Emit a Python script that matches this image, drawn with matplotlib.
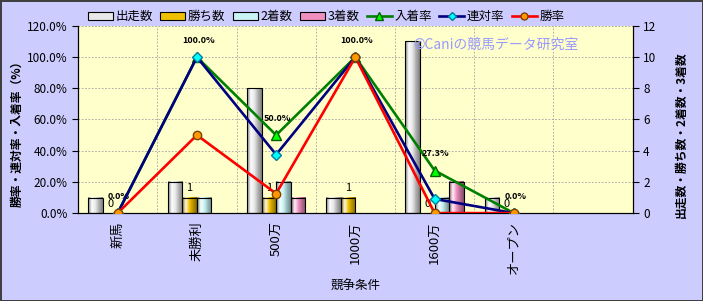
import numpy as np
import matplotlib
matplotlib.use('Agg')
import matplotlib.pyplot as plt
from matplotlib.colors import LinearSegmentedColormap, to_rgb
from matplotlib.patches import Patch
from matplotlib.lines import Line2D

plt.rcParams['font.family'] = ['Noto Sans CJK JP', 'DejaVu Sans']

# data
categories = ['新馬', '未勝利', '500万', '1000万', '1600万', 'オープン', '']
runs = [1, 2, 8, 1, 11, 1, 0]
wins = [0, 1, 1, 1, 0, 0, 0]
seconds = [0, 1, 2, 0, 1, 0, 0]
thirds = [0, 0, 1, 0, 2, 0, 0]
place_rate = [0.0, 100.0, 50.0, 100.0, 27.3, 0.0]
rentai_rate = [0.0, 100.0, 37.5, 100.0, 9.1, 0.0]
win_rate = [0.0, 50.0, 12.5, 100.0, 0.0, 0.0]

bar_names = ['出走数', '勝ち数', '2着数', '3着数']
bar_colors = ['#e8e8e8', '#f0c000', '#c8f4f4', '#f090c0']


def grad_bar(ax, x, h, w, color):
    c = np.array(to_rgb(color))
    dark = c * 0.55
    light = c + (1 - c) * 0.9
    cmap = LinearSegmentedColormap.from_list('g', [dark, light, c, c * 0.75, dark])
    ax.imshow(np.linspace(0, 1, 64).reshape(1, -1), cmap=cmap,
              extent=[x - w / 2, x + w / 2, 0, h], aspect='auto', zorder=2)
    ax.bar(x, h, w, color='none', edgecolor='black', lw=0.8, zorder=3)


fig = plt.figure(figsize=(7.03, 3.01), dpi=100)
fig.patch.set_facecolor('#ccccff')
fig.patch.set_edgecolor('#404040')
fig.patch.set_linewidth(1.0)

ax = fig.add_axes([0.111, 0.292, 0.789, 0.622])
ax.set_facecolor('#ffffcc')
ax2 = ax.twinx()

# bars on the count axis
x = np.arange(len(categories))
w = 0.184
series = [runs, wins, seconds, thirds]
for k, (vals, col) in enumerate(zip(series, bar_colors)):
    for i, v in enumerate(vals):
        if v > 0:
            grad_bar(ax, x[i] + (k - 1.5) * w, v, w, col)

# win count labels (they sit on top of the 0.0% labels like the original)
for i, v in enumerate(wins[:6]):
    ax.annotate(str(v), (x[i] - 0.5 * w, v), xytext=(0, 3), textcoords='offset points',
                ha='center', va='bottom', fontsize=8)

ax.set_xlim(-0.5, 6.5)
ax.set_ylim(0, 12)
ax.set_yticks(np.arange(0, 13, 2))
ax.yaxis.tick_right()
ax.yaxis.set_label_position('right')
ax.set_ylabel('出走数・勝ち数・2着数・3着数', fontsize=8.5, fontweight='bold', rotation=90)
ax.yaxis.set_label_coords(1.075, 0.42)
ax.set_xticks(x)
ax.set_xticklabels(categories, rotation=90, fontsize=9.5)
ax.set_xticks(np.arange(-0.5, 7, 1), minor=True)
ax.tick_params(axis='x', which='both', length=0, pad=6)
ax.tick_params(axis='y', labelsize=8.5, length=4, colors='black')
ax.set_xlabel('競争条件', fontsize=9, labelpad=4)
ax.grid(axis='y', which='major', color='#a0a0a0', ls=(0, (2, 2)), lw=0.6)
ax.grid(axis='x', which='minor', color='#a0a0a0', ls=(0, (2, 2)), lw=0.6)
ax.set_axisbelow(True)

# lines on the percent axis
lx = x[:6]
ax2.plot(lx, place_rate, color='#008000', lw=1.9, marker='^', ms=7,
         mfc='#00ff00', mec='#006000', zorder=3)
ax2.plot(lx, rentai_rate, color='#000080', lw=1.9, marker='D', ms=5,
         mfc='#00ffff', mec='#0080a0', zorder=4)
ax2.plot(lx, win_rate, color='#ff0000', lw=1.9, marker='o', ms=6,
         mfc='#ff9900', mec='#804000', zorder=5)
for i, v in enumerate(place_rate):
    ax2.annotate(f'{v:.1f}%', (lx[i], v), xytext=(1, 9), textcoords='offset points',
                 ha='center', va='bottom', fontsize=6.5, fontweight='bold')

ax2.set_ylim(0, 120)
ax2.set_yticks(np.arange(0, 121, 20))
ax2.set_yticklabels([f'{t:.1f}%' for t in np.arange(0, 121, 20)])
ax2.yaxis.tick_left()
ax2.yaxis.set_label_position('left')
ax2.set_ylabel('勝率・連対率・入着率（%）', fontsize=8.5, fontweight='bold')
ax2.yaxis.set_label_coords(-0.098, 0.44)
ax2.tick_params(axis='y', labelsize=8.5, length=4)

for a in (ax, ax2):
    a.spines['top'].set_visible(False)

ax.text(0.605, 0.875, '©Caniの競馬データ研究室', transform=ax.transAxes,
        color='#9999ff', fontsize=10, zorder=6)

handles = [Patch(facecolor=c, edgecolor='black', lw=0.8) for c in bar_colors]
handles += [
    Line2D([], [], color='#008000', lw=1.9, marker='^', ms=6, mfc='#00ff00', mec='#006000'),
    Line2D([], [], color='#000080', lw=1.9, marker='D', ms=4, mfc='#00ffff', mec='#0080a0'),
    Line2D([], [], color='#ff0000', lw=1.9, marker='o', ms=5, mfc='#ff9900', mec='#804000'),
]
labels = bar_names + ['入着率', '連対率', '勝率']
fig.legend(handles, labels, loc='center', bbox_to_anchor=(0.464, 0.945), ncol=7,
           frameon=False, fontsize=9, handlelength=2.0, handleheight=0.6,
           columnspacing=0.6, handletextpad=0.2, borderpad=0.1)

fig.savefig('out.png', dpi=100, facecolor=fig.get_facecolor(), edgecolor=fig.get_edgecolor())
